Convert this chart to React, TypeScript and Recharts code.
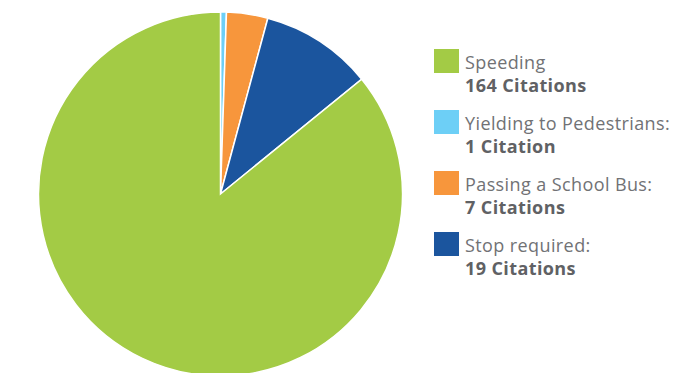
import { PieChart, Pie, Cell, Legend } from "recharts"

const categories = ["Yielding to Pedestrians:", "Passing a School Bus:", "Stop required:", "Speeding"]
const citations = [1, 7, 19, 164]
const colors = ["#6dcff6", "#f7963c", "#1b559e", "#a3cb45"]
// legend lists speeding first
const legendOrder = [3, 0, 1, 2]

const data = categories.map((name, i) => ({ name, value: citations[i] }))

function citationLabel(n: number) {
  return `${n} ${n === 1 ? "Citation" : "Citations"}`
}

function SideLegend() {
  return (
    <div style={{ fontFamily: "'Open Sans', sans-serif", fontSize: 18, letterSpacing: 0.4 }}>
      {legendOrder.map((i) => (
        <div key={categories[i]} style={{ display: "flex", alignItems: "flex-start", height: 61 }}>
          <div style={{ width: 25, height: 24, background: colors[i], marginRight: 6, flexShrink: 0 }} />
          <div style={{ marginTop: 1, whiteSpace: "nowrap" }}>
            <div style={{ color: "#717275", lineHeight: "24px", fontWeight: 400 }}>
              {categories[i]}
            </div>
            <div style={{ color: "#606164", lineHeight: "22px", fontWeight: 700 }}>
              {citationLabel(citations[i])}
            </div>
          </div>
        </div>
      ))}
    </div>
  )
}

export default function App() {
  return (
    <div style={{ position: "absolute", top: 0, left: 0, width: 681, height: 373, background: "#fff" }}>
      <PieChart width={681} height={373} margin={{ top: 0, right: 0, bottom: 0, left: 0 }}>
        <Pie
          data={data}
          dataKey="value"
          nameKey="name"
          cx={220.5}
          cy={194}
          outerRadius={182}
          startAngle={90}
          endAngle={-270}
          stroke="#fff"
          strokeWidth={1.5}
          isAnimationActive={false}
        >
          {data.map((d, i) => (
            <Cell key={d.name} fill={colors[i]} />
          ))}
        </Pie>
        <Legend
          content={() => <SideLegend />}
          wrapperStyle={{ position: "absolute", left: 434, top: 49, width: 247 }}
        />
      </PieChart>
    </div>
  )
}
